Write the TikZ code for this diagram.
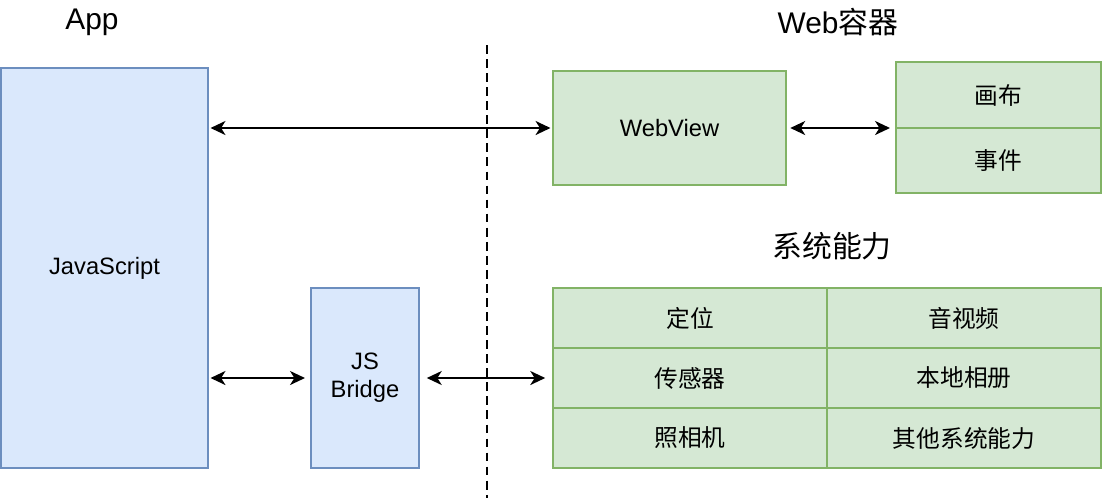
\documentclass[tikz,border=0pt]{standalone}
\usepackage{fontspec}
\setmainfont{Liberation Sans}
\newfontfamily\cjk{Noto Sans CJK SC}
\usetikzlibrary{arrows.meta}
\definecolor{bluefill}{HTML}{DAE8FC}
\definecolor{bluedraw}{HTML}{6C8EBF}
\definecolor{greenfill}{HTML}{D5E8D4}
\definecolor{greendraw}{HTML}{82B366}
\begin{document}
\begin{tikzpicture}[x=0.02cm,y=-0.02cm,
  bluebox/.style={draw=bluedraw,fill=bluefill,line width=0.9pt,inner sep=0pt,font=\fontsize{13.5}{16}\selectfont,align=center},
  greenbox/.style={draw=greendraw,fill=greenfill,line width=0.9pt,inner sep=0pt,font=\fontsize{13.5}{16}\selectfont,align=center},
  title/.style={font=\fontsize{17}{20}\selectfont},
  link/.style={{Stealth[length=8.5pt,width=8pt,inset=2.5pt]}-{Stealth[length=8.5pt,width=8pt,inset=2.5pt]},line width=1pt}]
\useasboundingbox (0,0) rectangle (1104,498);
% title labels
\node[title] (app) at (92,22) {App};
\node[title] (web) at (838,22) {Web{\cjk 容器}};
\node[title] (sys) at (832,246) {\cjk 系统能力};
% divider
\coordinate (dtop) at (487,45);
\coordinate (dbot) at (487,498);
\draw[dash pattern=on 5pt off 3pt,line width=0.9pt] (dtop) -- (dbot);
% left boxes
\node[bluebox,minimum width=4.14cm,minimum height=8cm] (js) at (104.5,268) {JavaScript};
\node[bluebox,minimum width=2.16cm,minimum height=3.6cm] (bridge) at (365,378) {JS\\Bridge};
% web container
\node[greenbox,minimum width=4.66cm,minimum height=2.28cm] (webview) at (669.5,128) {WebView};
\node[greenbox,minimum width=4.1cm,minimum height=1.32cm] (canvas) at (998.5,95) {\cjk 画布};
\node[greenbox,minimum width=4.1cm,minimum height=1.3cm] (event) at (998.5,160.5) {\cjk 事件};
% system capabilities grid
\node[greenbox,minimum width=5.48cm,minimum height=1.2cm] (loc) at (690,318) {\cjk 定位};
\node[greenbox,minimum width=5.48cm,minimum height=1.2cm] (av) at (964,318) {\cjk 音视频};
\node[greenbox,minimum width=5.48cm,minimum height=1.2cm] (sensor) at (690,378) {\cjk 传感器};
\node[greenbox,minimum width=5.48cm,minimum height=1.2cm] (album) at (964,378) {\cjk 本地相册};
\node[greenbox,minimum width=5.48cm,minimum height=1.2cm] (camera) at (690,438) {\cjk 照相机};
\node[greenbox,minimum width=5.48cm,minimum height=1.2cm] (other) at (964,438) {\cjk 其他系统能力};
% connectors
\draw[link] ([xshift=1pt]js.east |- webview.west) -- ([xshift=-1pt]webview.west);
\draw[link] ([xshift=1pt]js.east |- bridge.west) -- ([xshift=-3pt]bridge.west);
\draw[link] ([xshift=4pt]bridge.east) -- ([xshift=-4pt]bridge.east -| loc.west);
\draw[link] ([xshift=2pt]webview.east) -- ([xshift=-3pt]webview.east -| canvas.west);
\end{tikzpicture}
\end{document}
